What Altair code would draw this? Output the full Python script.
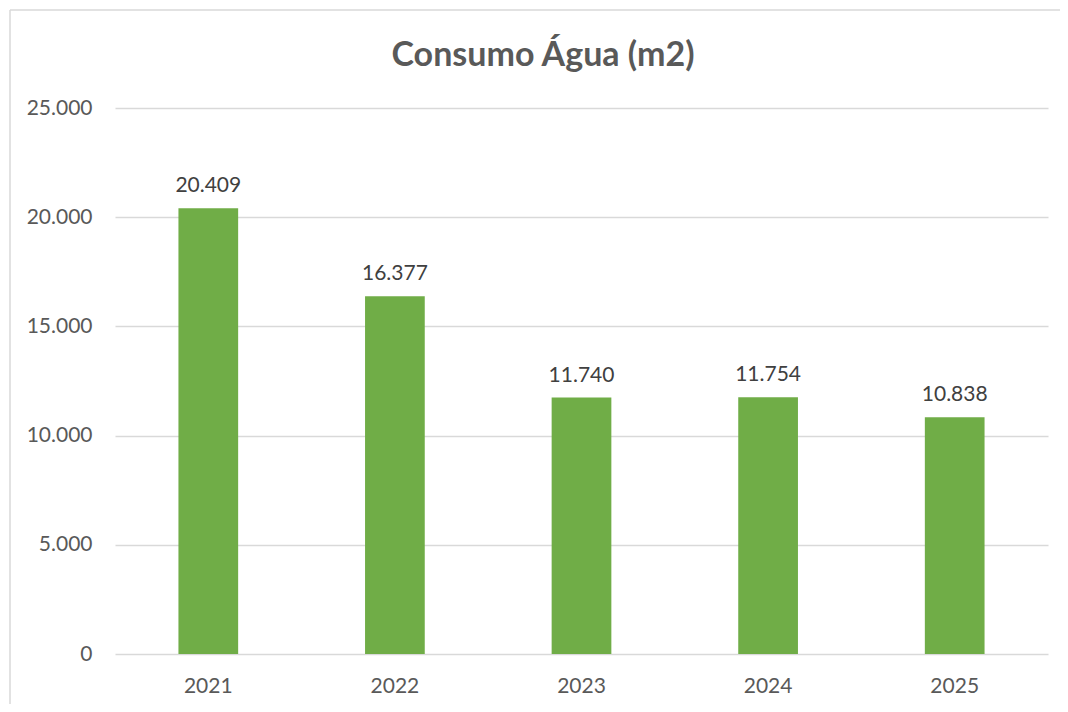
import altair as alt
import pandas as pd

years = ["2021", "2022", "2023", "2024", "2025"]
values = [20409, 16377, 11740, 11754, 10838]
y_ticks = [0, 5000, 10000, 15000, 20000, 25000]
title_text = "Consumo Água (m2)"

df = pd.DataFrame({"ano": years, "valor": values})

FONT = "Lato"
GRAY = "#595959"

base = alt.Chart(df)

bars = base.mark_bar(color="#70ad47").encode(
    x=alt.X("ano:N", sort=years,
            scale=alt.Scale(paddingInner=0.68, paddingOuter=0.34),
            axis=alt.Axis(title=None, labelAngle=0, labelFontSize=21, labelColor=GRAY,
                          labelFont=FONT, labelPadding=21, ticks=False, domain=False, grid=False)),
    y=alt.Y("valor:Q", scale=alt.Scale(domain=[0, 25000], nice=False),
            axis=alt.Axis(title=None, values=y_ticks, labelFontSize=21, labelColor=GRAY,
                          labelFont=FONT, labelPadding=23, ticks=False, domain=False,
                          gridColor="#d9d9d9", gridWidth=1.3,
                          labelExpr="replace(format(datum.value, ','), ',', '.')")),
)

labels = base.mark_text(baseline="bottom", dy=-12, fontSize=21, font=FONT, color="#404040").encode(
    x=alt.X("ano:N", sort=years),
    y="valor:Q",
    text=alt.Text("lbl:N"),
).transform_calculate(lbl="replace(format(datum.valor, ','), ',', '.')")

one = alt.Chart(pd.DataFrame({"t": [title_text]}))
title = one.mark_text(fontSize=34, font=FONT, fontWeight="bold", color=GRAY,
                      align="center", baseline="alphabetic").encode(
    x=alt.value(428), y=alt.value(-42), text="t:N")

border = one.mark_rule(color="#d9d9d9", strokeWidth=1.5)
top_line = border.encode(x=alt.value(-105), x2=alt.value(945), y=alt.value(-98))
left_line = border.encode(x=alt.value(-105), y=alt.value(-98), y2=alt.value(600))

chart = alt.layer(bars, labels, title, top_line, left_line).properties(
    width=933,
    height=546,
    autosize=alt.AutoSizeParams(type="none"),
    padding={"left": 107, "top": 100, "right": 12, "bottom": 50},
).configure(background="white").configure_view(stroke=None, strokeWidth=0)

chart.save("out.html", embed_options={"renderer": "svg", "actions": False})
